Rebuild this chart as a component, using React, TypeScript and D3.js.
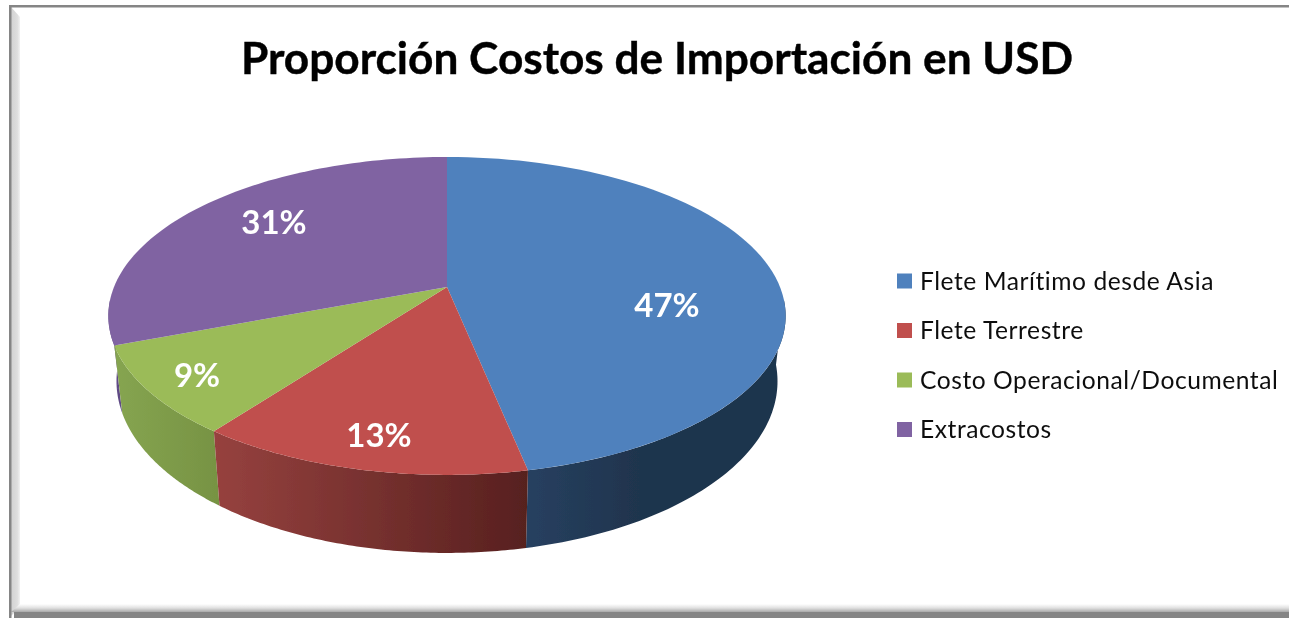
import React from 'react'
import * as d3 from 'd3'

const width = 1289
const height = 618

const title = 'Proporción Costos de Importación en USD'
const categories = ['Flete Marítimo desde Asia', 'Flete Terrestre', 'Costo Operacional/Documental', 'Extracostos']
// labels show them rounded
const shares = [46.8, 13.4, 9.0, 30.8]
const topColors = ['#4f81bd', '#c0504d', '#9bbb59', '#8064a2']

// wall shading, left to right in screen x
const wallStops = [
	{ x0: 527, x1: 640, from: '#274060', to: '#1f344d' },
	{ x0: 211, x1: 527, from: '#97423f', to: '#57201f' },
	{ x0: 113, x1: 217, from: '#86a551', to: '#779343' },
	{ x0: 108, x1: 125, from: '#5f4a85', to: '#5f4a85' },
]
const labelSpots = [
	[667, 305],
	[379, 435],
	[197, 375],
	[274, 222],
]

// the disc is a circle seen in perspective, k is how strong
const k = 0.182
const topDisc = { cy: 287, a: 333, b: 153.7 }
const bottomDisc = { cy: 350, a: 325, b: 166 }
const cx = 447

const project = (disc: typeof topDisc, angle: number, r = 1): [number, number] => {
	const u = Math.sin(angle) * r
	const v = -Math.cos(angle) * r
	const w = 1 - k * v
	return [cx + (disc.a * u) / w, disc.cy + (disc.b * v) / w]
}

const arcSamples = (start: number, end: number) => d3.range(0, 81).map(i => start + ((end - start) * i) / 80)

const line = d3.line()

const slices = d3
	.pie<number>()
	.sort(null)
	.value(d => d)(shares)

const slicePath = (s: d3.PieArcDatum<number>) =>
	line([project(topDisc, 0, 0), ...arcSamples(s.startAngle, s.endAngle).map(t => project(topDisc, t))]) + 'Z'

// one quad per step, filled as one path so the outer edge gets its silhouette
const wallPath = (start: number, end: number) => {
	const ts = arcSamples(start, end)
	return ts
		.slice(1)
		.map((t, i) => {
			const p = ts[i]
			return line([project(topDisc, p), project(topDisc, t), project(bottomDisc, t), project(bottomDisc, p)]) + 'Z'
		})
		.join('')
}

const deg = (d: number) => (d * Math.PI) / 180
const wallRange = (s: d3.PieArcDatum<number>, i: number): [number, number] => {
	if (i === 0) return [deg(95), s.endAngle]
	if (i === 3) return [s.startAngle, deg(265)]
	return [s.startAngle, s.endAngle]
}
const wallOrder = [3, 0, 2, 1]

const color = d3.scaleOrdinal<string, string>().domain(categories).range(topColors)
const legendY = d3.scalePoint<string>().domain(categories).range([281, 429.5])

export default function App() {
	return (
		<svg
			width={width}
			height={height}
			style={{ position: 'absolute', left: 0, top: 0, display: 'block', background: '#fff' }}
		>
			<defs>
				<filter id="soft" x="-2%" y="-2%" width="104%" height="104%">
					<feGaussianBlur stdDeviation="0.6" />
				</filter>
				<linearGradient id="bevelLeft" x1="0" x2="1" y1="0" y2="0">
					<stop offset="0" stopColor="#d2d2d2" />
					<stop offset="0.7" stopColor="#dedede" />
					<stop offset="1" stopColor="#f2f2f2" />
				</linearGradient>
				<linearGradient id="bevelBottom" x1="0" x2="0" y1="0" y2="1">
					<stop offset="0" stopColor="#ffffff" />
					<stop offset="0.5" stopColor="#e0e0e0" />
					<stop offset="1" stopColor="#a8a8a8" />
				</linearGradient>
				{wallStops.map((w, i) => (
					<linearGradient key={i} id={`wall${i}`} gradientUnits="userSpaceOnUse" x1={w.x0} x2={w.x1} y1="0" y2="0">
						<stop offset="0" stopColor={w.from} />
						<stop offset="1" stopColor={w.to} />
					</linearGradient>
				))}
			</defs>
			<g filter="url(#soft)">
				<polygon points="11,7 20,17 20,607 11,616" fill="url(#bevelLeft)" />
				<polygon points="20,604 1289,604 1289,612 11,612" fill="url(#bevelBottom)" />
				<rect x={9} y={5} width={1280} height={2.5} fill="#858585" />
				<rect x={9} y={5} width={2.5} height={613} fill="#858585" />
				<rect x={14} y={612} width={1275} height={6} fill="#858585" />

				<text
					x={657}
					y={74}
					textAnchor="middle"
					fontFamily="Lato, sans-serif"
					fontWeight={700}
					fontSize={44.2}
					stroke="#000"
					strokeWidth={0.4}
					fill="#000"
				>
					{title}
				</text>

				{wallOrder.map(i => {
					const [a, b] = wallRange(slices[i], i)
					return <path key={i} d={wallPath(a, b)} fill={`url(#wall${i})`} />
				})}
				{slices.map((s, i) => (
					<path key={i} d={slicePath(s)} fill={topColors[i]} />
				))}
				{shares.map((d, i) => (
					<text
						key={i}
						x={labelSpots[i][0]}
						y={labelSpots[i][1]}
						dy="0.36em"
						textAnchor="middle"
						fontFamily="Lato, sans-serif"
						fontWeight={700}
						fontSize={33}
						fill="#fff"
					>
						{Math.round(d)}%
					</text>
				))}

				{categories.map(c => (
					<g key={c} transform={`translate(0,${legendY(c)})`}>
						<rect x={897} y={-7.5} width={15} height={15} fill={color(c)} />
						<text x={920} dy="0.35em" fontFamily="Lato, sans-serif" fontSize={24.6} letterSpacing={0.55} fill="#111">
							{c}
						</text>
					</g>
				))}
			</g>
		</svg>
	)
}
